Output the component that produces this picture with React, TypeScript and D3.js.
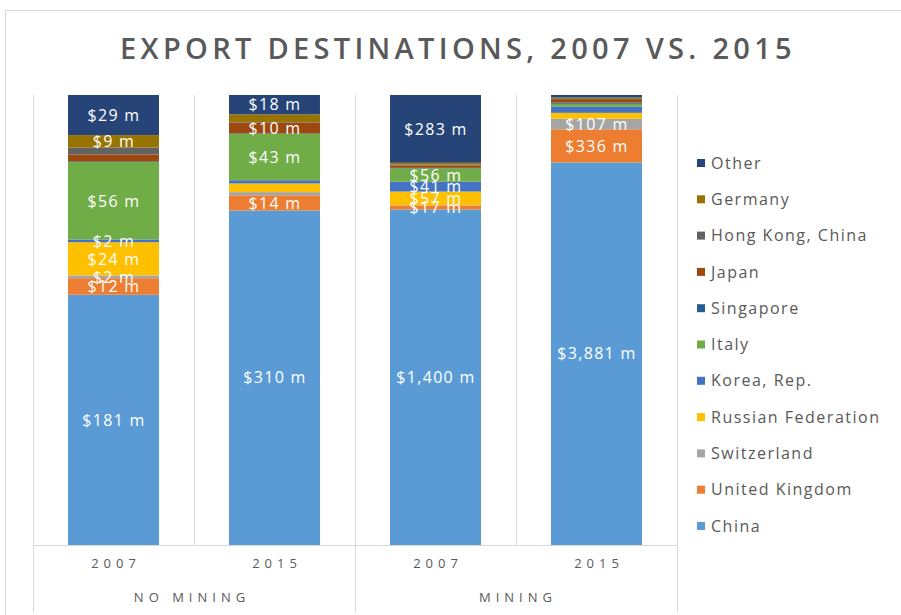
import React from "react";
import * as d3 from "d3";

const columns = ["NM2007", "NM2015", "M2007", "M2015"];
const yearLabels = ["2007", "2015", "2007", "2015"];
const groupLabels = ["NO MINING", "MINING"];
const title = "EXPORT DESTINATIONS, 2007 VS. 2015";

// series, bottom to top of stack
const seriesNames = [
  "China",
  "United Kingdom",
  "Switzerland",
  "Russian Federation",
  "Korea, Rep.",
  "Italy",
  "Singapore",
  "Japan",
  "Hong Kong, China",
  "Germany",
  "Other",
];
const seriesColors = [
  "#5B9BD5",
  "#ED7D31",
  "#A5A5A5",
  "#FFC000",
  "#4472C4",
  "#70AD47",
  "#255E91",
  "#9E480E",
  "#636363",
  "#997300",
  "#264478",
];

// values in $ millions, per column [NM2007, NM2015, M2007, M2015]
const china = [181, 310, 1400, 3881];
const unitedKingdom = [12, 14, 17, 336];
const switzerland = [2, 3, 1, 107];
const russia = [24, 8, 57, 60];
const korea = [2, 3, 41, 65];
const italy = [56, 43, 56, 27];
const singapore = [0.5, 0.5, 2, 12];
const japan = [5, 10, 10, 27];
const hongKong = [5, 0.5, 3, 10];
const germany = [9, 7, 8, 15];
const other = [29, 18, 283, 25];

const seriesValues = [china, unitedKingdom, switzerland, russia, korea, italy, singapore, japan, hongKong, germany, other];

// which data labels are shown (series index -> column indices)
const labelShown: number[][] = [
  [0, 1, 2, 3],
  [0, 1, 2, 3],
  [0, 3],
  [0, 2],
  [0, 2],
  [0, 1, 2],
  [],
  [1],
  [],
  [0],
  [0, 1, 2],
];

const W = 901;
const H = 615;
const plot = { left: 33, right: 677, top: 95, bottom: 545 };

export default function App() {
  const x = d3
    .scaleBand<string>()
    .domain(columns)
    .range([plot.left, plot.right])
    .paddingInner(0.435)
    .paddingOuter(0.2175);
  const y = d3.scaleLinear().domain([0, 1]).range([plot.bottom, plot.top]);

  const table = columns.map((c, ci) => {
    const row: any = { col: c };
    seriesNames.forEach((s, si) => (row[s] = seriesValues[si][ci]));
    return row;
  });
  const stacked = d3.stack<any>().keys(seriesNames).offset(d3.stackOffsetExpand)(table);
  const fmt = d3.format(",");
  const step = x.step();

  const legendY = d3.scalePoint<string>().domain(seriesNames.slice().reverse()).range([163, 526]);
  const font = "'Open Sans', 'Noto Sans', sans-serif";

  return (
    <svg width={W} height={H} style={{ position: "absolute", left: 0, top: 0, background: "#fff" }}>
      <rect x={0} y={0} width={W} height={H} fill="#fff" />
      <rect x={5.5} y={10.5} width={W + 10} height={H + 10} fill="none" stroke="#D9D9D9" />
      <text
        x={458}
        y={59}
        textAnchor="middle"
        fontFamily={font}
        fontSize={29}
        fontWeight={600}
        letterSpacing={4.3}
        fill="#595959"
      >
        {title}
      </text>
      {/* bars */}
      {stacked.map((layer, si) => (
        <g key={seriesNames[si]} fill={seriesColors[si]}>
          {layer.map((d, ci) => (
            <rect
              key={ci}
              x={x(columns[ci])}
              y={y(d[1])}
              width={x.bandwidth()}
              height={Math.max(0, y(d[0]) - y(d[1]))}
            />
          ))}
        </g>
      ))}
      {/* grid / axis lines */}
      <g stroke="#D9D9D9" strokeWidth={1}>
        {columns.map((c, ci) => {
          const lx = Math.round(x(c)! - (step - x.bandwidth()) / 2) + 0.5;
          const long = ci % 2 === 0;
          return <line key={c} x1={lx} x2={lx} y1={plot.top} y2={long ? 613 : plot.bottom} />;
        })}
        <line x1={plot.right + 0.5} x2={plot.right + 0.5} y1={plot.top} y2={613} />
        <line x1={plot.left} x2={plot.right} y1={plot.bottom + 0.5} y2={plot.bottom + 0.5} />
      </g>
      {/* data labels */}
      {stacked.map((layer, si) =>
        layer.map((d, ci) =>
          labelShown[si].includes(ci) ? (
            <text
              key={`${si}-${ci}`}
              x={x(columns[ci])! + x.bandwidth() / 2 + 0.5}
              y={(y(d[0]) + y(d[1])) / 2}
              dy="0.36em"
              textAnchor="middle"
              fontFamily={font}
              fontSize={16}
              letterSpacing={1.3}
              fill="#fff"
            >
              {`$${fmt(seriesValues[si][ci])} m`}
            </text>
          ) : null
        )
      )}
      {/* category labels */}
      {columns.map((c, ci) => (
        <text
          key={c}
          x={x(c)! + x.bandwidth() / 2 + 2.5}
          y={568}
          textAnchor="middle"
          fontFamily={font}
          fontSize={13}
          letterSpacing={5}
          fill="#595959"
        >
          {yearLabels[ci]}
        </text>
      ))}
      {groupLabels.map((g, gi) => {
        const a = x(columns[gi * 2])!;
        const b = x(columns[gi * 2 + 1])! + x.bandwidth();
        return (
          <text
            key={g}
            x={(a + b) / 2 + (gi === 0 ? -2 : 2)}
            y={602}
            textAnchor="middle"
            fontFamily={font}
            fontSize={13}
            letterSpacing={5}
            fill="#595959"
          >
            {g}
          </text>
        );
      })}
      {/* legend */}
      {seriesNames.map((s, si) => {
        const ly = legendY(s)!;
        return (
          <g key={s}>
            <rect x={697} y={ly - 4} width={8} height={8} fill={seriesColors[si]} />
            <text
              x={711}
              y={ly}
              dy="0.35em"
              fontFamily={font}
              fontSize={16}
              letterSpacing={1.5}
              fill="#595959"
            >
              {s}
            </text>
          </g>
        );
      })}
    </svg>
  );
}
